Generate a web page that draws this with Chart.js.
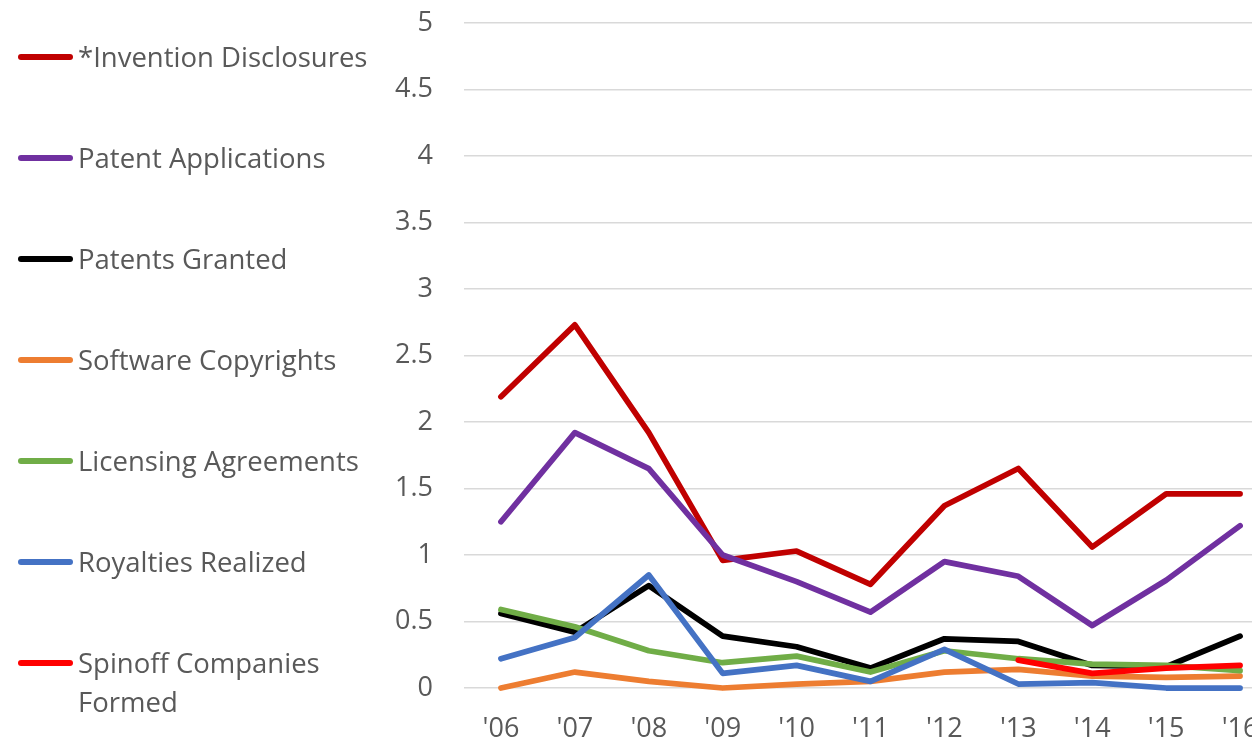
<!DOCTYPE html>
<html>
<head>
<meta charset="utf-8">
<script src="https://cdn.jsdelivr.net/npm/chart.js@4.4.1/dist/chart.umd.min.js"></script>
<style>
	html, body { margin: 0; padding: 0; background: #fff; overflow: hidden; }
	#wrap { position: relative; width: 1280px; height: 740px; }
	#trendChart { position: absolute; left: 0; top: 0; }
	#legend { position: absolute; left: 0; top: 0; }
	.item { position: absolute; left: 18px; }
	.swatch { position: absolute; left: 0; width: 55px; height: 6px; border-radius: 3px; }
	.label {
		position: absolute; left: 60px; width: 320px;
		font-family: "Open Sans", sans-serif; font-size: 27.5px; line-height: 39px; color: #595959;
	}
</style>
</head>
<body>
<div id="wrap">
	<canvas id="trendChart" width="1280" height="740"></canvas>
	<div id="legend"></div>
</div>
<script>
const years = ["'06", "'07", "'08", "'09", "'10", "'11", "'12", "'13", "'14", "'15", "'16"];

const inventionDisclosures = [2.19, 2.73, 1.92, 0.96, 1.03, 0.78, 1.37, 1.65, 1.06, 1.46, 1.46];
const patentApplications = [1.25, 1.92, 1.65, 1.00, 0.80, 0.57, 0.95, 0.84, 0.47, 0.81, 1.22];
const patentsGranted = [0.56, 0.42, 0.77, 0.39, 0.31, 0.15, 0.37, 0.35, 0.17, 0.16, 0.39];
const softwareCopyrights = [0.00, 0.12, 0.05, 0.00, 0.03, 0.05, 0.12, 0.14, 0.09, 0.08, 0.09];
const licensingAgreements = [0.59, 0.46, 0.28, 0.19, 0.24, 0.12, 0.28, 0.22, 0.18, 0.17, 0.13];
const royaltiesRealized = [0.22, 0.38, 0.85, 0.11, 0.17, 0.05, 0.29, 0.03, 0.04, 0.00, 0.00];
const spinoffCompanies = [null, null, null, null, null, null, null, 0.21, 0.11, 0.15, 0.17];

const seriesNames = [
	'*Invention Disclosures',
	'Patent Applications',
	'Patents Granted',
	'Software Copyrights',
	'Licensing Agreements',
	'Royalties Realized',
	'Spinoff Companies Formed',
];
const seriesValues = [
	inventionDisclosures,
	patentApplications,
	patentsGranted,
	softwareCopyrights,
	licensingAgreements,
	royaltiesRealized,
	spinoffCompanies,
];
const seriesColors = ['#C00000', '#7030A0', '#000000', '#ED7D31', '#70AD47', '#4472C4', '#FF0000'];

const yTicks = [0, 0.5, 1, 1.5, 2, 2.5, 3, 3.5, 4, 4.5, 5];

const tickFont = { family: '"Open Sans", sans-serif', size: 27 };

// later series are drawn on top, same as the legend order
const datasets = seriesNames.map((name, i) => ({
	label: name,
	data: seriesValues[i],
	borderColor: seriesColors[i],
	backgroundColor: seriesColors[i],
	borderWidth: 5.75,
	pointRadius: 0,
	tension: 0,
	fill: false,
	clip: false,
	spanGaps: false,
	borderCapStyle: 'round',
	borderJoinStyle: 'round',
	order: seriesNames.length - i,
}));

function renderLegend() {
	const box = document.getElementById('legend');
	seriesNames.forEach((name, i) => {
		const item = document.createElement('div');
		item.className = 'item';
		item.style.top = (57 + i * 101) + 'px';
		item.innerHTML =
			`<div class="swatch" style="background:${seriesColors[i]};top:-3px"></div>` +
			`<div class="label" style="top:-20px">${name}</div>`;
		box.appendChild(item);
	});
}

function renderTrendChart() {
	const canvas = document.getElementById('trendChart');
	const ctx = canvas.getContext('2d');
	new Chart(ctx, {
		type: 'line',
		data: { labels: years, datasets },
		options: {
			responsive: false,
			animation: false,
			layout: { padding: { top: 23, right: 3, left: 0, bottom: 0 } },
			plugins: {
				legend: { display: false },
				tooltip: { enabled: false },
			},
			scales: {
				x: {
					offset: true,
					grid: { display: false },
					border: { display: false },
					ticks: { color: '#595959', font: tickFont, padding: 17, maxRotation: 0, autoSkip: false },
					afterFit: (s) => { s.height = 52; s.paddingLeft = 0; s.paddingRight = 0; },
				},
				y: {
					min: 0,
					max: 5,
					afterBuildTicks: (s) => { s.ticks = yTicks.map((v) => ({ value: v })); },
					grid: { color: '#D9D9D9', lineWidth: 1.5, drawTicks: false },
					border: { display: false },
					ticks: {
						color: '#595959',
						font: tickFont,
						padding: 31,
						callback: (value) => String(value),
					},
					// keep the plot top fixed instead of reserving room for the top label
					afterFit: (s) => { s.width = 464; s.paddingTop = 0; s.paddingBottom = 0; },
				},
			},
		},
	});
}

renderLegend();
renderTrendChart();
</script>
</body>
</html>
